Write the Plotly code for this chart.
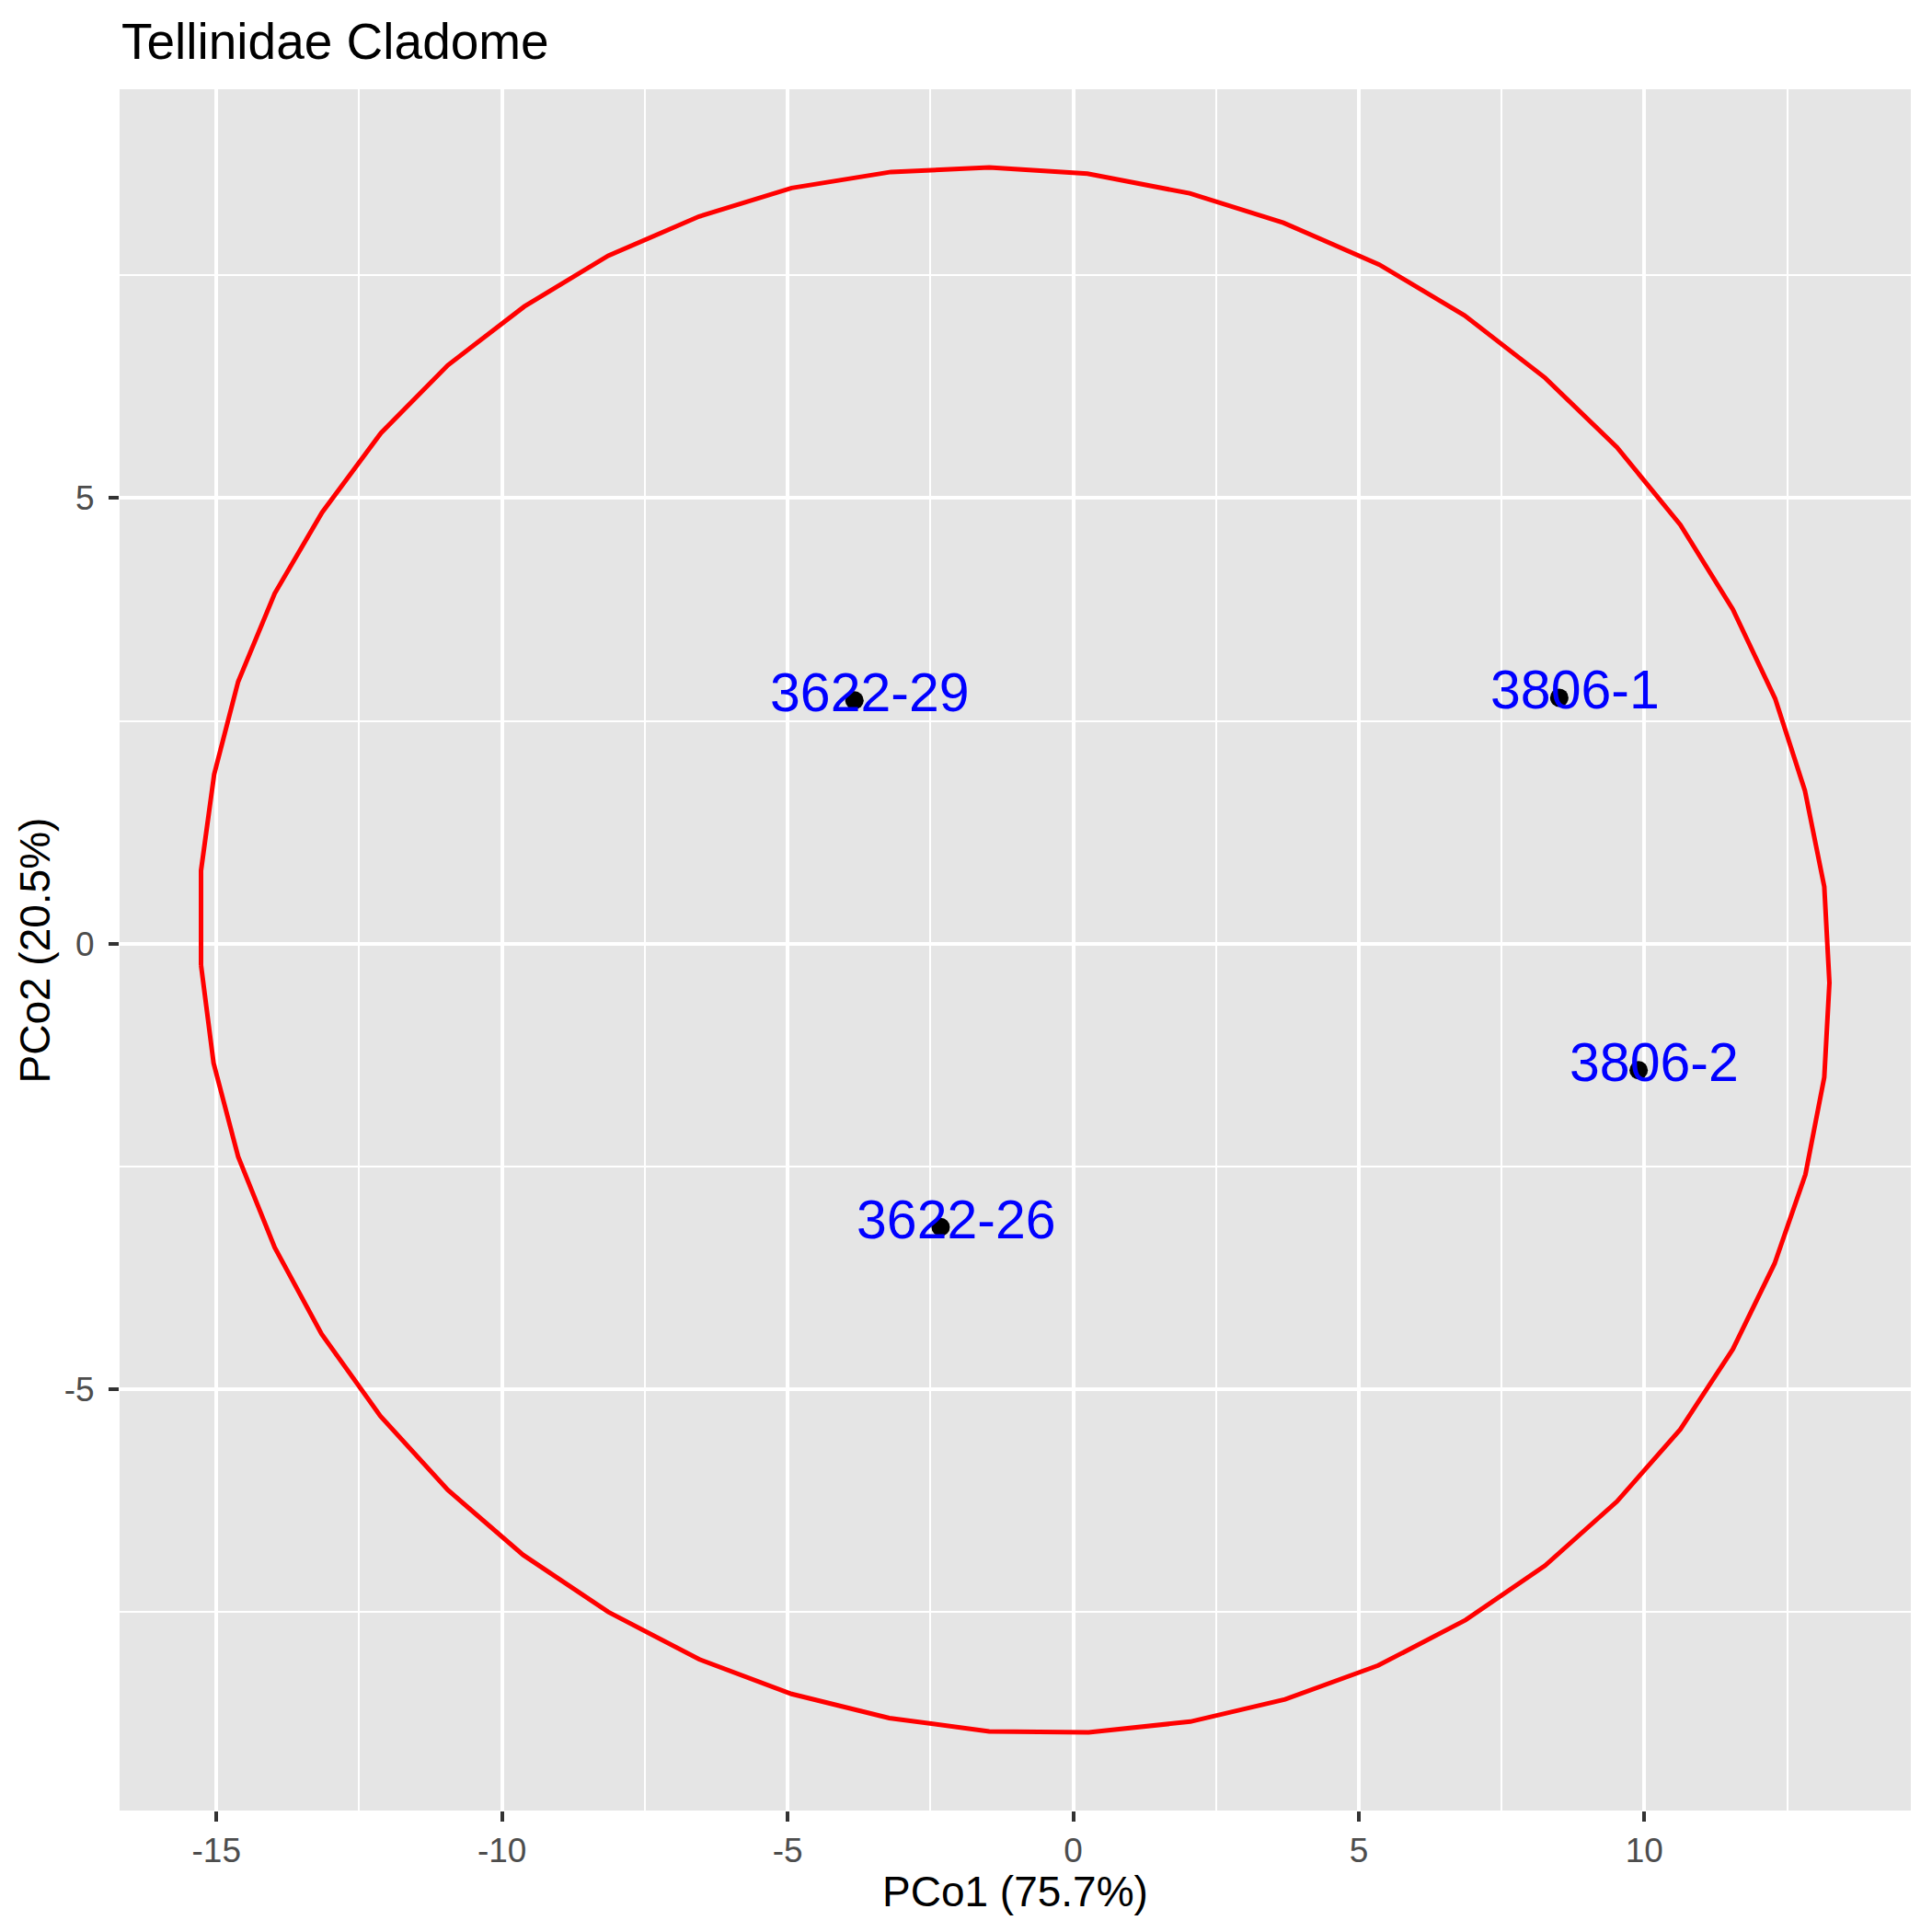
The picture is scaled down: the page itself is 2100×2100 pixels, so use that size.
import plotly.graph_objects as go

# Sample points (PCoA scores)
sample_labels = ["3622-29", "3806-1", "3806-2", "3622-26"]
pco1_values = [-3.83, 8.51, 9.90, -2.32]
pco2_values = [2.73, 2.76, -1.42, -3.18]

# Ellipse outline vertices
ellipse_x = [-15.27, -15.27, -15.04, -14.62, -13.98, -13.15, -12.12, -10.95, -9.61, -8.14,
             -6.55, -4.93, -3.19, -1.47, 0.25, 2.04, 3.68, 5.36, 6.85, 8.26,
             9.52, 10.63, 11.55, 12.29, 12.81, 13.15, 13.24, 13.15, 12.82, 12.28,
             11.55, 10.63, 9.52, 8.26, 6.87, 5.34, 3.71, 2.05, 0.27, -1.47,
             -3.22, -4.93, -6.55, -8.14, -9.63, -10.95, -12.13, -13.16, -13.98, -14.62,
             -15.05, -15.27]
ellipse_y = [-0.24, 0.82, 1.90, 2.94, 3.93, 4.84, 5.73, 6.49, 7.15, 7.72,
             8.16, 8.48, 8.66, 8.71, 8.64, 8.42, 8.09, 7.62, 7.05, 6.35,
             5.57, 4.70, 3.75, 2.75, 1.72, 0.64, -0.44, -1.50, -2.59, -3.59,
             -4.55, -5.45, -6.26, -6.98, -7.59, -8.10, -8.48, -8.73, -8.85, -8.84,
             -8.69, -8.42, -8.03, -7.50, -6.86, -6.13, -5.30, -4.38, -3.41, -2.39,
             -1.34, -0.24]

x_ticks = [-15, -10, -5, 0, 5, 10]
y_ticks = [-5, 0, 5]
x_minor = [-12.5, -7.5, -2.5, 2.5, 7.5, 12.5]
y_minor = [-7.5, -2.5, 2.5, 7.5]

title_text = "Tellinidae Cladome"
x_title = "PCo1 (75.7%)"
y_title = "PCo2 (20.5%)"

FONT = "Liberation Sans, Arial, Helvetica, sans-serif"

def expand(vals, mult=0.05):
    lo, hi = min(vals), max(vals)
    span = hi - lo
    return [lo - mult * span, hi + mult * span]

xr = expand(ellipse_x + pco1_values)
yr = expand(ellipse_y + pco2_values)

fig = go.Figure()
fig.add_trace(go.Scatter(x=ellipse_x, y=ellipse_y, mode="lines",
                         line=dict(color="#FF0000", width=5), hoverinfo="skip"))
fig.add_trace(go.Scatter(x=pco1_values, y=pco2_values, mode="markers",
                         marker=dict(color="black", size=20), hoverinfo="skip"))

for lab, xv, yv in zip(sample_labels, pco1_values, pco2_values):
    fig.add_annotation(x=xv, y=yv, text=lab, showarrow=False,
                       xshift=17, yshift=8,
                       font=dict(family=FONT, size=59, color="#0000FF"))

# Title & axis titles
fig.add_annotation(xref="paper", yref="paper", x=0, y=1, xanchor="left", yanchor="bottom",
                   yshift=19, text=title_text, showarrow=False,
                   font=dict(family=FONT, size=55, color="black"))
fig.add_annotation(xref="paper", yref="paper", x=0.5, y=0, xanchor="center", yanchor="top",
                   yshift=-61, text=x_title, showarrow=False, borderpad=0,
                   font=dict(family=FONT, size=46, color="black"))
fig.add_annotation(xref="paper", yref="paper", x=0, y=0.5, xanchor="right", yanchor="middle",
                   xshift=-65, text=y_title, showarrow=False, textangle=-90,
                   font=dict(family=FONT, size=46, color="black"))

axis_common = dict(
    showgrid=True, gridcolor="white", gridwidth=4,
    zeroline=False, showline=False,
    ticks="outside", ticklen=11, tickwidth=4, tickcolor="#333333",
    tickfont=dict(family=FONT, size=37, color="#4D4D4D"),
)

fig.update_layout(
    width=2100, height=2100,
    margin=dict(l=122, r=31, t=89, b=140, autoexpand=False),
    paper_bgcolor="white", plot_bgcolor="#E5E5E5",
    showlegend=False,
    xaxis=dict(range=xr, tickmode="array", tickvals=x_ticks,
               ticktext=[str(v) for v in x_ticks], ticklabelstandoff=0,
               minor=dict(tickmode="array", tickvals=x_minor, showgrid=True,
                          gridcolor="white", gridwidth=2, ticks=""),
               **axis_common),
    yaxis=dict(range=yr, tickmode="array", tickvals=y_ticks,
               ticktext=[str(v) for v in y_ticks], ticklabelstandoff=8,
               minor=dict(tickmode="array", tickvals=y_minor, showgrid=True,
                          gridcolor="white", gridwidth=2, ticks=""),
               **axis_common),
)

fig.write_html("out.html", config={"displayModeBar": False})
